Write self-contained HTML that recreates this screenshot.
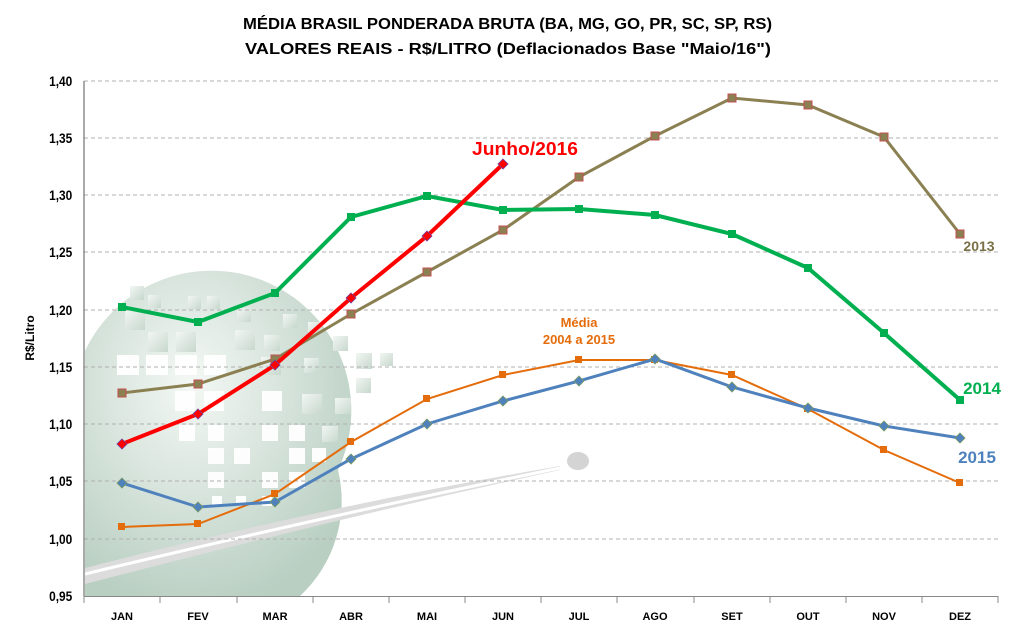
<!DOCTYPE html>
<html><head><meta charset="utf-8"><style>
body{margin:0;background:#fff;}
svg{display:block;font-family:"Liberation Sans",sans-serif;}
</style></head><body>
<svg width="1016" height="633" viewBox="0 0 1016 633">
<defs>
<radialGradient id="g" cx="0.4" cy="0.35" r="0.7">
<stop offset="0" stop-color="#f4f8f5"/><stop offset="1" stop-color="#b9cfc2"/></radialGradient>
<linearGradient id="sq" x1="0" y1="0" x2="1" y2="1"><stop offset="0" stop-color="#f2f6f3"/><stop offset="1" stop-color="#c7d8cd"/></linearGradient>
</defs>
<rect width="1016" height="633" fill="#fff"/>
<path d="M85,351 A130,130 0 0 1 338,470 A130,130 0 0 1 300,596 L85,596 Z" fill="url(#g)"/>
<g fill="#fff" opacity="0.95">
<rect x="117" y="355" width="22" height="20"/><rect x="146" y="355" width="22" height="20"/><rect x="175" y="355" width="22" height="20"/><rect x="204" y="355" width="22" height="20"/>
<rect x="175" y="391" width="20" height="20"/><rect x="204" y="391" width="20" height="20"/><rect x="262" y="391" width="20" height="20"/>
<rect x="179" y="425" width="16" height="16"/><rect x="208" y="425" width="16" height="16"/><rect x="262" y="425" width="16" height="16"/><rect x="289" y="425" width="16" height="16"/>
<rect x="208" y="448" width="16" height="16"/><rect x="234" y="448" width="16" height="16"/><rect x="289" y="448" width="16" height="16"/><rect x="312" y="448" width="14" height="14"/>
<rect x="208" y="472" width="16" height="16"/><rect x="262" y="472" width="16" height="16"/><rect x="289" y="472" width="16" height="16"/>
<rect x="212" y="496" width="10" height="10"/><rect x="236" y="496" width="10" height="10"/><rect x="262" y="496" width="10" height="10"/>
</g>
<g fill="url(#sq)">
<rect x="130" y="286" width="14" height="14"/><rect x="148" y="295" width="13" height="13"/><rect x="188" y="296" width="13" height="13"/><rect x="207" y="296" width="13" height="13"/>
<rect x="125" y="310" width="20" height="20"/><rect x="148" y="332" width="20" height="20"/><rect x="176" y="332" width="20" height="20"/>
<rect x="235" y="330" width="20" height="20"/><rect x="264" y="335" width="16" height="16"/><rect x="237" y="308" width="14" height="14"/>
<rect x="283" y="314" width="14" height="14"/><rect x="308" y="322" width="14" height="14"/><rect x="333" y="336" width="15" height="15"/>
<rect x="356" y="353" width="16" height="16"/><rect x="380" y="353" width="13" height="13"/><rect x="356" y="378" width="15" height="15"/>
<rect x="302" y="394" width="20" height="20"/><rect x="335" y="398" width="16" height="16"/><rect x="322" y="426" width="16" height="16"/>
<rect x="261" y="357" width="20" height="18"/><rect x="304" y="358" width="15" height="15"/>
</g>
<path d="M85,568 Q330,505 560,466 L560,470 Q330,520 85,584 Z" fill="#dcdcdc"/>
<path d="M85,574 Q330,515 560,468" stroke="#fff" stroke-width="3" fill="none"/>
<ellipse cx="578" cy="461" rx="11" ry="9" fill="#d4d4d4"/>
<g stroke="#b0b0b0" stroke-dasharray="4,3" stroke-width="1">
<line x1="84" y1="81" x2="998" y2="81"/><line x1="84" y1="138" x2="998" y2="138"/><line x1="84" y1="195" x2="998" y2="195"/><line x1="84" y1="252" x2="998" y2="252"/><line x1="84" y1="310" x2="998" y2="310"/><line x1="84" y1="367" x2="998" y2="367"/><line x1="84" y1="424" x2="998" y2="424"/><line x1="84" y1="481" x2="998" y2="481"/><line x1="84" y1="539" x2="998" y2="539"/>
</g>
<line x1="84" y1="81" x2="84" y2="597" stroke="#555" stroke-width="1"/>
<line x1="84" y1="596.5" x2="998" y2="596.5" stroke="#888" stroke-width="1"/>
<g stroke="#888"><line x1="160" y1="596" x2="160" y2="603"/><line x1="237" y1="596" x2="237" y2="603"/><line x1="313" y1="596" x2="313" y2="603"/><line x1="389" y1="596" x2="389" y2="603"/><line x1="465" y1="596" x2="465" y2="603"/><line x1="541" y1="596" x2="541" y2="603"/><line x1="617" y1="596" x2="617" y2="603"/><line x1="694" y1="596" x2="694" y2="603"/><line x1="770" y1="596" x2="770" y2="603"/><line x1="846" y1="596" x2="846" y2="603"/><line x1="922" y1="596" x2="922" y2="603"/><line x1="998" y1="596" x2="998" y2="603"/><line x1="84" y1="596" x2="84" y2="603"/></g>
<g font-size="14" font-weight="bold" fill="#000" transform="scale(0.85,1)">
<g text-anchor="end">
<text x="85" y="86">1,40</text><text x="85" y="143">1,35</text><text x="85" y="200">1,30</text><text x="85" y="257">1,25</text><text x="85" y="315">1,20</text><text x="85" y="372">1,15</text><text x="85" y="429">1,10</text><text x="85" y="486">1,05</text><text x="85" y="544">1,00</text><text x="85" y="601">0,95</text>
</g></g>
<g font-size="11" font-weight="bold" text-anchor="middle" fill="#000">
<text x="122" y="620">JAN</text><text x="198" y="620">FEV</text><text x="275" y="620">MAR</text><text x="351" y="620">ABR</text><text x="427" y="620">MAI</text><text x="503" y="620">JUN</text><text x="579" y="620">JUL</text><text x="655" y="620">AGO</text><text x="732" y="620">SET</text><text x="808" y="620">OUT</text><text x="884" y="620">NOV</text><text x="960" y="620">DEZ</text>
</g>
<text transform="translate(34,338) rotate(-90)" font-size="12" font-weight="bold" text-anchor="middle">R$/Litro</text>
<g font-size="16" font-weight="bold" fill="#000">
<text x="243" y="29" textLength="529" lengthAdjust="spacingAndGlyphs">MÉDIA BRASIL PONDERADA  BRUTA (BA, MG, GO, PR, SC, SP, RS)</text>
<text x="245" y="54" textLength="526" lengthAdjust="spacingAndGlyphs">VALORES REAIS - R$/LITRO (Deflacionados  Base "Maio/16")</text>
</g>
<polyline fill="none" stroke="#8b8052" stroke-width="3" points="122,393 198,384 275,359 351,314 427,272 503,230 579,177 655,136 732,98 808,105 884,137 960,234"/>
<g fill="#8b8052" stroke="#c05050" stroke-width="1"><rect x="118" y="389" width="8" height="8"/><rect x="194" y="380" width="8" height="8"/><rect x="271" y="355" width="8" height="8"/><rect x="347" y="310" width="8" height="8"/><rect x="423" y="268" width="8" height="8"/><rect x="499" y="226" width="8" height="8"/><rect x="575" y="173" width="8" height="8"/><rect x="651" y="132" width="8" height="8"/><rect x="728" y="94" width="8" height="8"/><rect x="804" y="101" width="8" height="8"/><rect x="880" y="133" width="8" height="8"/><rect x="956" y="230" width="8" height="8"/></g>
<polyline fill="none" stroke="#00b050" stroke-width="4" points="122,307 198,322 275,293 351,217 427,196 503,210 579,209 655,215 732,234 808,268 884,333 960,400"/>
<g fill="#00b050"><rect x="118" y="303" width="8" height="8"/><rect x="194" y="318" width="8" height="8"/><rect x="271" y="289" width="8" height="8"/><rect x="347" y="213" width="8" height="8"/><rect x="423" y="192" width="8" height="8"/><rect x="499" y="206" width="8" height="8"/><rect x="575" y="205" width="8" height="8"/><rect x="651" y="211" width="8" height="8"/><rect x="728" y="230" width="8" height="8"/><rect x="804" y="264" width="8" height="8"/><rect x="880" y="329" width="8" height="8"/><rect x="956" y="396" width="8" height="8"/></g>
<polyline fill="none" stroke="#e46c0a" stroke-width="2" points="122,527 198,524 275,494 351,442 427,399 503,375 579,360 655,360 732,375 808,409 884,450 960,483"/>
<g fill="#e46c0a"><rect x="118" y="523" width="7" height="7"/><rect x="194" y="520" width="7" height="7"/><rect x="271" y="490" width="7" height="7"/><rect x="347" y="438" width="7" height="7"/><rect x="423" y="395" width="7" height="7"/><rect x="499" y="371" width="7" height="7"/><rect x="575" y="356" width="7" height="7"/><rect x="651" y="356" width="7" height="7"/><rect x="728" y="371" width="7" height="7"/><rect x="804" y="405" width="7" height="7"/><rect x="880" y="446" width="7" height="7"/><rect x="956" y="479" width="7" height="7"/></g>
<polyline fill="none" stroke="#4f81bd" stroke-width="3" points="122,483 198,507 275,502 351,459 427,424 503,401 579,381 655,359 732,387 808,408 884,426 960,438"/>
<g fill="#4f81bd" stroke="#7a9a60" stroke-width="0.8">
<path d="M122,478l5,5l-5,5l-5,-5z"/><path d="M198,502l5,5l-5,5l-5,-5z"/><path d="M275,497l5,5l-5,5l-5,-5z"/><path d="M351,454l5,5l-5,5l-5,-5z"/><path d="M427,419l5,5l-5,5l-5,-5z"/><path d="M503,396l5,5l-5,5l-5,-5z"/><path d="M579,376l5,5l-5,5l-5,-5z"/><path d="M655,354l5,5l-5,5l-5,-5z"/><path d="M732,382l5,5l-5,5l-5,-5z"/><path d="M808,403l5,5l-5,5l-5,-5z"/><path d="M884,421l5,5l-5,5l-5,-5z"/><path d="M960,433l5,5l-5,5l-5,-5z"/></g>
<polyline fill="none" stroke="#ff0000" stroke-width="4" points="122,444 198,414 275,365 351,298 427,236 503,164"/>
<g fill="#ff0000" stroke="#7040a0" stroke-width="0.8">
<path d="M122,439l5,5l-5,5l-5,-5z"/><path d="M198,409l5,5l-5,5l-5,-5z"/><path d="M275,360l5,5l-5,5l-5,-5z"/><path d="M351,293l5,5l-5,5l-5,-5z"/><path d="M427,231l5,5l-5,5l-5,-5z"/><path d="M503,159l5,5l-5,5l-5,-5z"/></g>
<text x="472" y="155" font-size="18" font-weight="bold" fill="#ff0000" textLength="106" lengthAdjust="spacingAndGlyphs">Junho/2016</text>
<text x="579" y="327" font-size="13" font-weight="bold" fill="#e46c0a" text-anchor="middle">Média</text>
<text x="579" y="344" font-size="13" font-weight="bold" fill="#e46c0a" text-anchor="middle">2004 a 2015</text>
<text x="979" y="251" font-size="14" font-weight="bold" fill="#7a7046" text-anchor="middle">2013</text>
<text x="982" y="394" font-size="17" font-weight="bold" fill="#00b050" text-anchor="middle">2014</text>
<text x="977" y="463" font-size="17" font-weight="bold" fill="#4f81bd" text-anchor="middle">2015</text>
</svg>
</body></html>
